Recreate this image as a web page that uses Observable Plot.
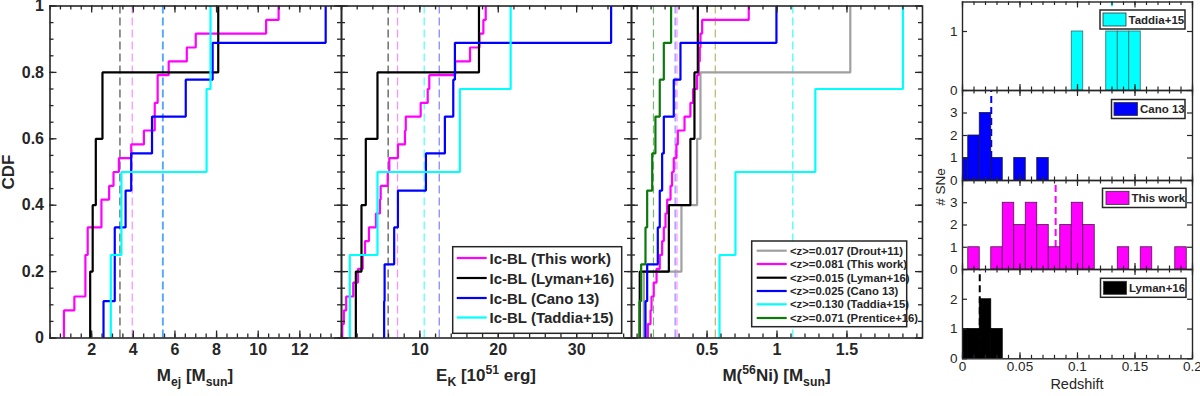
<!DOCTYPE html>
<html>
<head>
<meta charset="utf-8">
<script src="https://cdn.jsdelivr.net/npm/d3@7"></script>
<script src="https://cdn.jsdelivr.net/npm/@observablehq/plot@0.6"></script>
<style>
  html, body { margin: 0; padding: 0; background: #fff; }
  #fig { position: relative; width: 1200px; height: 396px; overflow: hidden; background: #fff;
         font-family: "Liberation Sans", Arial, Helvetica, sans-serif; }
  #fig > svg { position: absolute; top: 0; }
</style>
</head>
<body>
<div id="fig"></div>
<script>
const FONT = '"Liberation Sans", Arial, Helvetica, sans-serif';
const INK = "#262626";

// ================= DATA =================
// Panel 1 — ejecta mass M_ej [M_sun]: CDF step positions (X) and levels (Y)
const mejThisWorkX = [0.67, 1.17, 1.70, 1.81, 2.47, 2.84, 3.05, 3.31, 3.90, 4.51, 5.03, 5.17, 5.70, 6.57, 7.00, 10.38, 10.98];
const mejThisWorkY = [0.083, 0.125, 0.25, 0.333, 0.417, 0.458, 0.5, 0.542, 0.583, 0.625, 0.708, 0.792, 0.833, 0.875, 0.917, 0.958, 1];
const mejLymanX = [1.93, 2.05, 2.20, 2.52, 8.08];
const mejLymanY = [0.2, 0.4, 0.6, 0.8, 1];
const mejCanoX = [2.57, 3.11, 3.63, 3.90, 4.90, 6.52, 7.81, 13.24];
const mejCanoY = [0.111, 0.333, 0.444, 0.556, 0.667, 0.778, 0.889, 1];
const mejTaddiaX = [2.92, 3.43, 7.52, 7.71];
const mejTaddiaY = [0.25, 0.5, 0.75, 1];
// mean markers (dashed): This work, Lyman+16, Cano 13, Taddia+15
const mejMeans = [3.95, 3.36, 5.43, 5.40];

// Panel 2 — kinetic energy E_K [1e51 erg]
const ekThisWorkX = [0.10, 0.30, 0.60, 1.50, 2.10, 2.70, 3.00, 3.50, 4.40, 4.90, 5.00, 5.90, 6.10, 7.20, 8.10, 8.20, 10.10, 11.00, 11.20, 14.50, 16.40, 17.60, 18.10, 18.40];
const ekThisWorkY = [0.042, 0.083, 0.125, 0.167, 0.208, 0.25, 0.292, 0.333, 0.375, 0.417, 0.458, 0.5, 0.542, 0.583, 0.625, 0.667, 0.708, 0.75, 0.792, 0.833, 0.875, 0.917, 0.958, 1];
const ekLymanX = [1.83, 2.55, 3.10, 4.59, 17.54];
const ekLymanY = [0.2, 0.4, 0.6, 0.8, 1];
const ekCanoX = [5.44, 5.50, 6.72, 7.20, 10.77, 13.19, 14.26, 14.47, 34.40];
const ekCanoY = [0.111, 0.222, 0.333, 0.444, 0.556, 0.667, 0.778, 0.889, 1];
const ekTaddiaX = [1.06, 4.59, 15.10, 21.58];
const ekTaddiaY = [0.25, 0.5, 0.75, 1];
const ekMeans = [7.15, 5.95, 12.47, 10.55];

// Panel 3 — nickel mass M(56Ni) [M_sun]
const niDroutX = [0.048, 0.317, 0.429, 0.453, 1.524];
const niDroutY = [0.2, 0.4, 0.6, 0.8, 1];
const niThisWorkX = [0.077, 0.096, 0.103, 0.119, 0.139, 0.162, 0.179, 0.191, 0.203, 0.215, 0.239, 0.250, 0.262, 0.281, 0.291, 0.339, 0.381, 0.400, 0.429, 0.441, 0.448, 0.453, 0.465, 0.798];
const niThisWorkY = [0.042, 0.083, 0.125, 0.167, 0.208, 0.25, 0.292, 0.333, 0.375, 0.417, 0.458, 0.5, 0.542, 0.583, 0.625, 0.667, 0.708, 0.75, 0.792, 0.833, 0.875, 0.917, 0.958, 1];
const niLymanX = [0.019, 0.227, 0.381, 0.410, 0.434];
const niLymanY = [0.2, 0.4, 0.6, 0.8, 1];
const niCanoX = [0.060, 0.072, 0.148, 0.162, 0.179, 0.191, 0.262, 0.310, 0.996];
const niCanoY = [0.111, 0.222, 0.333, 0.444, 0.556, 0.667, 0.778, 0.889, 1];
const niTaddiaX = [0.589, 0.703, 1.274, 1.900];
const niTaddiaY = [0.25, 0.5, 0.75, 1];
const niPrenticeX = [0.017, 0.029, 0.060, 0.072, 0.108, 0.131, 0.162, 0.191, 0.243];
const niPrenticeY = [0.111, 0.222, 0.333, 0.444, 0.556, 0.667, 0.778, 0.889, 1];
// mean markers: Drout+11, This work, Cano 13, Taddia+15, Prentice+16
const niMeans = [0.559, 0.285, 0.272, 1.113, 0.117];

// Legends
const cdfLegendLabels = ["Ic-BL (This work)", "Ic-BL (Lyman+16)", "Ic-BL (Cano 13)", "Ic-BL (Taddia+15)"];
const niLegendLabels = ["<z>=0.017 (Drout+11)", "<z>=0.081 (This work)", "<z>=0.015 (Lyman+16)", "<z>=0.025 (Cano 13)", "<z>=0.130 (Taddia+15)", "<z>=0.071 (Prentice+16)"];

// Redshift histograms (bin centres, counts), bin width 0.01
const zBinWidth = 0.01;
const zTaddiaBins = [0.10, 0.13, 0.14, 0.15];
const zTaddiaCounts = [1, 1, 1, 1];
const zCanoBins = [0.00, 0.01, 0.02, 0.03, 0.05, 0.07];
const zCanoCounts = [1, 2, 3, 1, 1, 1];
const zThisWorkBins = [0.01, 0.03, 0.04, 0.05, 0.06, 0.07, 0.08, 0.09, 0.10, 0.11, 0.14, 0.16, 0.19];
const zThisWorkCounts = [1, 1, 3, 2, 3, 2, 1, 2, 3, 2, 1, 1, 1];
const zLymanBins = [0.00, 0.01, 0.02, 0.03];
const zLymanCounts = [1, 1, 2, 1];
const zMeans = [0.130, 0.025, 0.081, 0.015]; // Taddia, Cano, This work, Lyman
const zHistLabels = ["Taddia+15", "Cano 13", "This work", "Lyman+16"];

// Tick values / labels
const cdfYTicks = [0, 0.2, 0.4, 0.6, 0.8, 1];
const mejTicks = [2, 4, 6, 8, 10, 12];
const ekTicks = [10, 20, 30];
const niTicks = [0.5, 1, 1.5];
const zTicks = [0, 0.05, 0.1, 0.15, 0.2];
const zTickLabels = ["0", "0.05", "0.1", "0.15", "0.2"];

// ================= STYLE =================
const C = {drout: "#a0a0a0", thisWork: "#ff00ff", lyman: "#000000", cano: "#0000ff", taddia: "#00ffff", prentice: "#0b7a0b"};

function stepRows(xs, ys) {
  return [{x: xs[0], y: 0}, ...xs.map((x, i) => ({x, y: ys[i]}))];
}

const fig = document.getElementById("fig");

function cdfPanel({left, width, marginLeft, xDomain, xTicks, xMinorStep, series, means, yLabels}) {
  const H = 396, mt = 5.5, mb = 58.5, mr = 8;
  const innerH = H - mt - mb, innerW = width - marginLeft - mr;
  const xMinor = d3.range(Math.ceil(xDomain[0] / xMinorStep - 1e-9) * xMinorStep, xDomain[1] + 1e-9, xMinorStep);
  const yMinor = d3.range(0, 1.0001, 0.05);
  const tick = {stroke: INK, strokeWidth: 1.3};
  const marks = [];
  means.forEach(m => marks.push(Plot.ruleX([m.x], {x: d => d, stroke: m.color, strokeOpacity: m.opacity, strokeWidth: 1.2, strokeDasharray: "8,4"})));
  series.forEach(s => marks.push(Plot.line(stepRows(s.x, s.y), {x: "x", y: "y", curve: "step-after", stroke: s.color, strokeWidth: 2.2, strokeLinejoin: "miter", strokeLinecap: "butt"})));
  marks.push(
    Plot.tickX(xMinor, {x: d => d, insetTop: innerH - 4, ...tick}),
    Plot.tickX(xMinor, {x: d => d, insetBottom: innerH - 4, ...tick}),
    Plot.tickX(xTicks, {x: d => d, insetTop: innerH - 7, ...tick}),
    Plot.tickX(xTicks, {x: d => d, insetBottom: innerH - 7, ...tick}),
    Plot.tickY(yMinor, {y: d => d, insetRight: innerW - 4, ...tick}),
    Plot.tickY(yMinor, {y: d => d, insetLeft: innerW - 4, ...tick}),
    Plot.tickY(cdfYTicks, {y: d => d, insetRight: innerW - 7, ...tick}),
    Plot.tickY(cdfYTicks, {y: d => d, insetLeft: innerW - 7, ...tick}),
    Plot.frame({stroke: INK, strokeWidth: 1.6}),
    Plot.text(xTicks, {x: d => d, frameAnchor: "bottom", dy: 17, text: d => String(d), fontSize: 16, fontWeight: "bold", fill: INK})
  );
  if (yLabels) marks.push(Plot.text(cdfYTicks, {y: d => d, frameAnchor: "left", dx: -6, textAnchor: "end", text: d => String(d), fontSize: 16, fontWeight: "bold", fill: INK}));
  const svg = Plot.plot({
    width, height: H, marginTop: mt, marginBottom: mb, marginLeft, marginRight: mr,
    x: {domain: xDomain, axis: null}, y: {domain: [0, 1], axis: null},
    style: {background: "transparent", fontFamily: FONT, overflow: "visible"},
    marks
  });
  svg.style.left = left + "px";
  fig.appendChild(svg);
}

// Panel 1
cdfPanel({
  left: 0, width: 349, marginLeft: 49.5, xDomain: [0, 14], xTicks: mejTicks, xMinorStep: 0.5, yLabels: true,
  means: [
    {x: mejMeans[1], color: "#000", opacity: 0.7},
    {x: mejMeans[0], color: C.thisWork, opacity: 0.45},
    {x: mejMeans[3], color: C.taddia, opacity: 0.7},
    {x: mejMeans[2], color: C.cano, opacity: 0.55}
  ],
  series: [
    {x: mejThisWorkX, y: mejThisWorkY, color: C.thisWork},
    {x: mejLymanX, y: mejLymanY, color: C.lyman},
    {x: mejCanoX, y: mejCanoY, color: C.cano},
    {x: mejTaddiaX, y: mejTaddiaY, color: C.taddia}
  ]
});

// Panel 2
cdfPanel({
  left: 300, width: 339, marginLeft: 41, xDomain: [0, 37], xTicks: ekTicks, xMinorStep: 2, yLabels: false,
  means: [
    {x: ekMeans[1], color: "#000", opacity: 0.7},
    {x: ekMeans[0], color: C.thisWork, opacity: 0.45},
    {x: ekMeans[3], color: C.taddia, opacity: 0.7},
    {x: ekMeans[2], color: C.cano, opacity: 0.5}
  ],
  series: [
    {x: ekThisWorkX, y: ekThisWorkY, color: C.thisWork},
    {x: ekLymanX, y: ekLymanY, color: C.lyman},
    {x: ekCanoX, y: ekCanoY, color: C.cano},
    {x: ekTaddiaX, y: ekTaddiaY, color: C.taddia}
  ]
});

// Panel 3
cdfPanel({
  left: 590, width: 340, marginLeft: 41, xDomain: [-0.04, 2.04], xTicks: niTicks, xMinorStep: 0.1, yLabels: false,
  means: [
    {x: niMeans[4], color: C.prentice, opacity: 0.55},
    {x: niMeans[2], color: C.cano, opacity: 0.45},
    {x: niMeans[1], color: C.thisWork, opacity: 0.45},
    {x: niMeans[0], color: "#b5a84a", opacity: 0.85},
    {x: niMeans[3], color: C.taddia, opacity: 0.8}
  ],
  series: [
    {x: niDroutX, y: niDroutY, color: C.drout},
    {x: niThisWorkX, y: niThisWorkY, color: C.thisWork},
    {x: niLymanX, y: niLymanY, color: C.lyman},
    {x: niCanoX, y: niCanoY, color: C.cano},
    {x: niTaddiaX, y: niTaddiaY, color: C.taddia},
    {x: niPrenticeX, y: niPrenticeY, color: C.prentice}
  ]
});

// Histograms
function histPanel({top, bottom, yDomain, yTicks, bins, counts, color, edge, mean, meanFrom, meanColor, xLabels}) {
  const H = 396, left = 900, width = 300, ml = 62, mr = 8;
  const innerH = bottom - top, innerW = width - ml - mr;
  const rows = bins.map((c, i) => ({x1: c - zBinWidth / 2, x2: c + zBinWidth / 2, n: counts[i]}));
  const xMinor = d3.range(0, 0.2001, 0.01);
  const tick = {stroke: INK, strokeWidth: 1.2};
  const marks = [
    Plot.ruleX([mean], {x: d => d, y1: meanFrom, y2: yDomain[1], stroke: meanColor, strokeWidth: 2, strokeDasharray: "7,4"}),
    Plot.rect(rows, {x1: "x1", x2: "x2", y1: 0, y2: "n", fill: color, stroke: edge, strokeWidth: 0.8, clip: true}),
    Plot.tickX(xMinor, {x: d => d, insetTop: innerH - 3.5, ...tick}),
    Plot.tickX(xMinor, {x: d => d, insetBottom: innerH - 3.5, ...tick}),
    Plot.tickX(zTicks, {x: d => d, insetTop: innerH - 6, ...tick}),
    Plot.tickX(zTicks, {x: d => d, insetBottom: innerH - 6, ...tick}),
    Plot.tickY(yTicks, {y: d => d, insetRight: innerW - 5, ...tick}),
    Plot.tickY(yTicks, {y: d => d, insetLeft: innerW - 5, ...tick}),
    Plot.frame({stroke: INK, strokeWidth: 1.4}),
    Plot.text(yTicks, {y: d => d, frameAnchor: "left", dx: -5, textAnchor: "end", text: d => String(d), fontSize: 13.5, fill: INK})
  ];
  if (xLabels) marks.push(Plot.text(zTicks, {x: d => d, frameAnchor: "bottom", dy: 12, text: (d, i) => zTickLabels[i], fontSize: 13.5, fill: INK}));
  const svg = Plot.plot({
    width, height: H, marginTop: top, marginBottom: H - bottom, marginLeft: ml, marginRight: mr,
    x: {domain: [0, 0.2], axis: null}, y: {domain: yDomain, axis: null},
    style: {background: "transparent", fontFamily: FONT, overflow: "visible"},
    marks
  });
  svg.style.left = left + "px";
  fig.appendChild(svg);
}

histPanel({top: 1.5, bottom: 90, yDomain: [0, 1.5], yTicks: [0, 1], bins: zTaddiaBins, counts: zTaddiaCounts,
  color: C.taddia, edge: "#2f6f6f", mean: zMeans[0], meanFrom: 1.42, meanColor: C.taddia});
histPanel({top: 90, bottom: 180, yDomain: [0, 4], yTicks: [0, 1, 2, 3], bins: zCanoBins, counts: zCanoCounts,
  color: C.cano, edge: "#1a1a40", mean: zMeans[1], meanFrom: 0, meanColor: C.cano});
histPanel({top: 180, bottom: 269, yDomain: [0, 4], yTicks: [0, 1, 2, 3], bins: zThisWorkBins, counts: zThisWorkCounts,
  color: C.thisWork, edge: "#4a1a4a", mean: zMeans[2], meanFrom: 0, meanColor: C.thisWork});
histPanel({top: 269, bottom: 358.3, yDomain: [0, 3], yTicks: [0, 1, 2], bins: zLymanBins, counts: zLymanCounts,
  color: C.lyman, edge: "#000", mean: zMeans[3], meanFrom: 0, meanColor: C.lyman, xLabels: true});

// ================= Overlay: labels & legends =================
const ov = d3.select(fig).append("svg").attr("width", 1200).attr("height", 396)
  .style("left", "0px").style("font-family", FONT).style("overflow", "visible");

function richLabel(x, y, parts, size) {
  const t = ov.append("text").attr("x", x).attr("y", y).attr("text-anchor", "middle")
    .attr("font-size", size).attr("font-weight", "bold").attr("fill", INK).style("white-space", "pre");
  let shift = 0;
  parts.forEach(([s, kind]) => {
    const target = kind === "sub" ? 5 : kind === "sup" ? -7 : 0;
    t.append("tspan").attr("dy", target - shift).attr("font-size", kind === "n" ? size : size * 0.72).text(s);
    shift = target;
  });
}
richLabel(195, 381, [["M", "n"], ["ej", "sub"], [" [M", "n"], ["sun", "sub"], ["]", "n"]], 17);
richLabel(486, 381, [["E", "n"], ["K", "sub"], [" [10", "n"], ["51", "sup"], [" erg]", "n"]], 17);
richLabel(776.5, 381, [["M(", "n"], ["56", "sup"], ["Ni) [M", "n"], ["sun", "sub"], ["]", "n"]], 17);

ov.append("text").attr("transform", "translate(8.5,172) rotate(-90)").attr("text-anchor", "middle")
  .attr("dominant-baseline", "central").attr("font-size", 17).attr("font-weight", "bold").attr("fill", INK).text("CDF");
ov.append("text").attr("transform", "translate(940,187) rotate(-90)").attr("text-anchor", "middle")
  .attr("dominant-baseline", "central").attr("font-size", 13.5).attr("fill", INK).text("# SNe");
ov.append("text").attr("x", 1077).attr("y", 388.5).attr("text-anchor", "middle")
  .attr("font-size", 14.5).attr("fill", INK).text("Redshift");

function lineLegend(x0, y0, x1, y1, rows, labels, colors, fontSize, lineX0, lineX1, textX) {
  ov.append("rect").attr("x", x0).attr("y", y0).attr("width", x1 - x0).attr("height", y1 - y0)
    .attr("fill", "#fff").attr("stroke", INK).attr("stroke-width", 1.5);
  labels.forEach((lab, i) => {
    ov.append("line").attr("x1", lineX0).attr("x2", lineX1).attr("y1", rows[i]).attr("y2", rows[i])
      .attr("stroke", colors[i]).attr("stroke-width", 2.2);
    ov.append("text").attr("x", textX).attr("y", rows[i]).attr("dominant-baseline", "central")
      .attr("font-size", fontSize).attr("font-weight", "bold").attr("fill", INK).text(lab);
  });
}
lineLegend(452.7, 246.7, 621.7, 333.3, [258, 278, 298, 317.5], cdfLegendLabels,
  [C.thisWork, C.lyman, C.cano, C.taddia], 15, 456.7, 486.7, 489.5);
lineLegend(751.7, 241, 906.7, 326.7, [250.7, 264, 277.7, 291, 304.3, 318], niLegendLabels,
  [C.drout, C.thisWork, C.lyman, C.cano, C.taddia, C.prentice], 11.3, 756.7, 786.7, 790);

function histLegend(x0, y0, x1, y1, sx0, sx1, label, color) {
  ov.append("rect").attr("x", x0).attr("y", y0).attr("width", x1 - x0).attr("height", y1 - y0)
    .attr("fill", "#fff").attr("stroke", INK).attr("stroke-width", 1.5);
  ov.append("rect").attr("x", sx0).attr("y", y0 + 3).attr("width", sx1 - sx0).attr("height", y1 - y0 - 6)
    .attr("fill", color).attr("stroke", "#333").attr("stroke-width", 0.8);
  ov.append("text").attr("x", sx1 + 2.5).attr("y", (y0 + y1) / 2).attr("dominant-baseline", "central")
    .attr("font-size", 11.5).attr("font-weight", "bold").attr("fill", INK).text(label);
}
histLegend(1100, 10, 1185, 29, 1103, 1126, zHistLabels[0], C.taddia);
histLegend(1111.5, 99.5, 1185, 118.5, 1114, 1137.5, zHistLabels[1], C.cano);
histLegend(1102.5, 188.3, 1186, 207.5, 1106, 1129, zHistLabels[2], C.thisWork);
histLegend(1100.5, 278.3, 1186, 297.3, 1103.5, 1126.5, zHistLabels[3], C.lyman);
</script>
</body>
</html>
